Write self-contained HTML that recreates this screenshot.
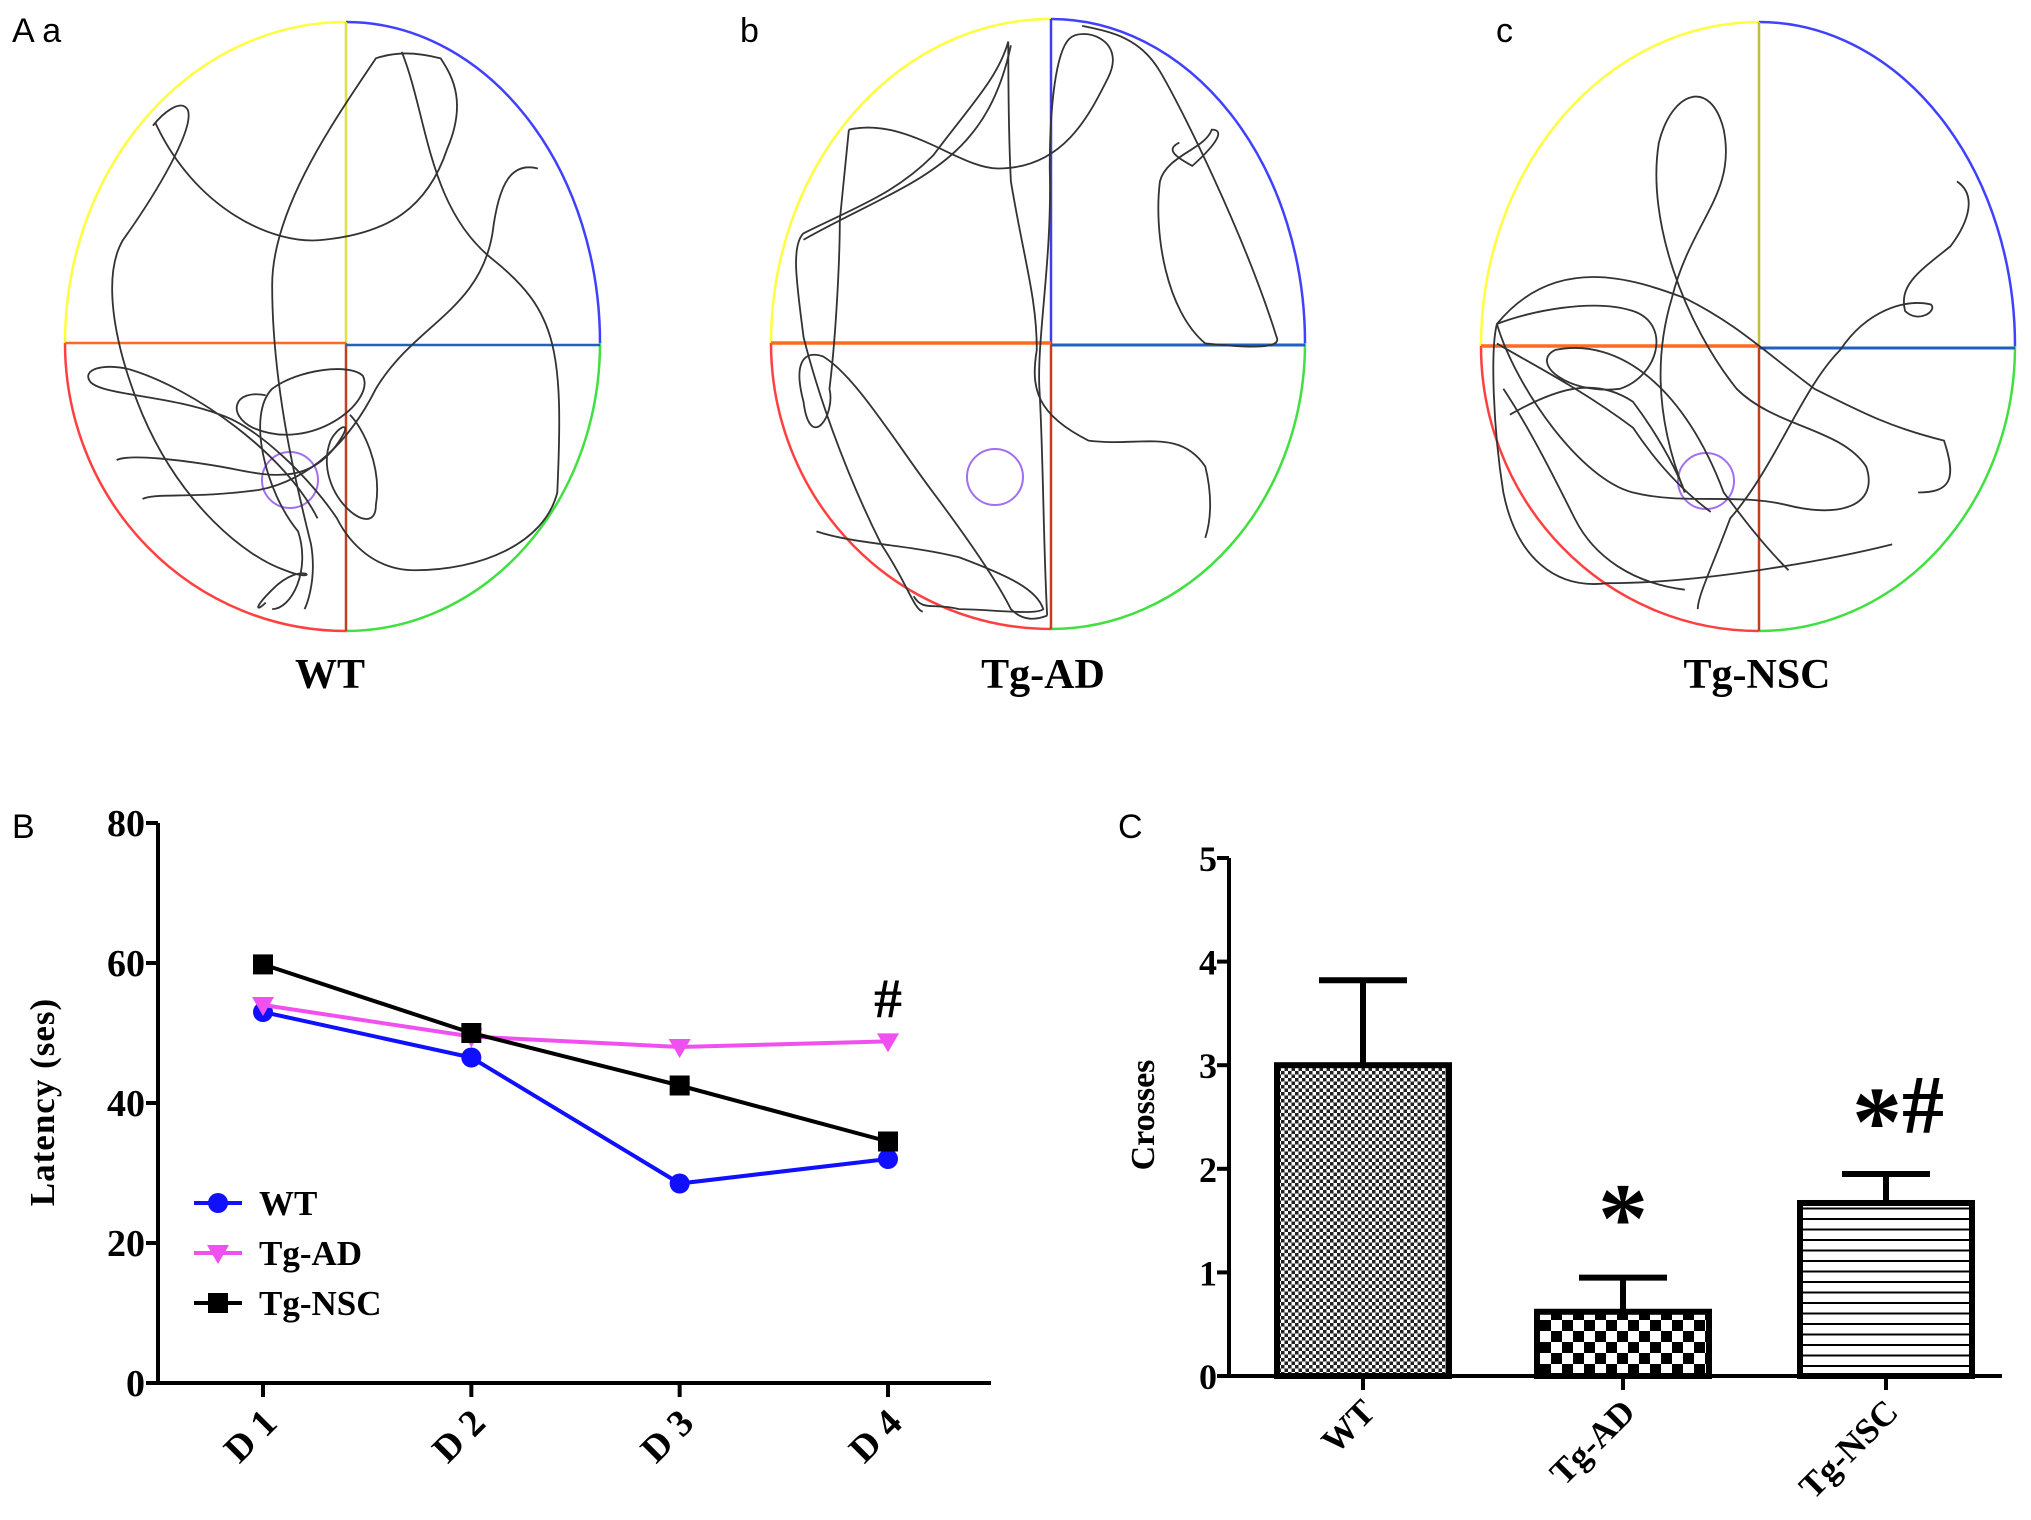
<!DOCTYPE html>
<html><head><meta charset="utf-8">
<style>
html,body{margin:0;padding:0;background:#fff;}
svg{display:block;}
.serif{font-family:"Liberation Serif",serif;font-weight:bold;}
.sans{font-family:"Liberation Sans",sans-serif;}
</style></head>
<body>
<svg id="fig" width="2031" height="1520" viewBox="0 0 2031 1520" xmlns="http://www.w3.org/2000/svg">
<defs>
  <pattern id="pFine" width="7" height="7" patternUnits="userSpaceOnUse">
    <rect width="7" height="7" fill="#fff"/>
    <rect width="3.5" height="3.5" fill="#222"/>
    <rect x="3.5" y="3.5" width="3.5" height="3.5" fill="#222"/>
  </pattern>
  <pattern id="pCheck" width="22" height="22" patternUnits="userSpaceOnUse">
    <rect width="22" height="22" fill="#fff"/>
    <rect width="11" height="11" fill="#000"/>
    <rect x="11" y="11" width="11" height="11" fill="#000"/>
  </pattern>
  <pattern id="pLines" width="10" height="10.5" patternUnits="userSpaceOnUse">
    <rect width="10" height="10.5" fill="#fff"/>
    <rect y="0" width="10" height="2" fill="#000"/>
  </pattern>
</defs>

<!-- Panel A -->
<g>
  <text class="sans" x="12" y="42" font-size="34">A a</text>
  <text class="sans" x="740" y="42" font-size="34">b</text>
  <text class="sans" x="1496" y="42" font-size="34">c</text>

  <g fill="none" stroke-width="2.5">
    <path d="M65,343 A281,321 0 0 1 346,22" stroke="#ffff40"/>
    <path d="M346,22 A254,321 0 0 1 600,343" stroke="#4040ff"/>
    <path d="M600,343 A254,288 0 0 1 346,631" stroke="#40e040"/>
    <path d="M346,631 A281,288 0 0 1 65,343" stroke="#ff4040"/>
    <line x1="346" y1="22" x2="346" y2="343" stroke="#e0e040"/>
    <line x1="346" y1="343" x2="346" y2="631" stroke="#c04020"/>
    <line x1="65" y1="343" x2="346" y2="343" stroke="#ff6a20"/>
    <line x1="346" y1="345" x2="600" y2="345" stroke="#2060c0"/>
    <circle cx="290" cy="480" r="28" stroke="#a070f0" stroke-width="2"/>
    <g transform="scale(1.296)" stroke="#333" stroke-width="1.4">
      <path d="M118,97 C125,88 140,75 145,85 C150,100 120,150 95,185 C80,210 85,260 110,320 C140,390 190,430 220,440 C250,452 235,430 210,455 C195,470 198,472 205,465"/>
      <path d="M120,95 C150,160 210,190 250,185 C300,180 330,160 345,115 C360,80 350,60 340,45 C320,40 305,40 290,45 C260,90 210,160 210,220 C210,300 230,380 240,420 C245,450 235,470 235,470"/>
      <path d="M415,130 C395,125 385,140 380,180 C370,240 320,250 290,300 C270,340 240,370 200,378 C150,385 120,380 110,385"/>
      <path d="M310,40 C330,90 330,160 380,200 C430,240 435,270 430,380 C420,420 370,440 320,440 C290,440 270,420 260,400 C240,370 200,330 170,320 C130,305 80,305 70,295 C62,285 80,280 100,285 C150,300 220,350 245,400"/>
      <path d="M205,305 C180,300 175,320 195,330 C240,350 290,310 280,290 C270,280 230,285 210,300 C190,320 205,380 230,410 C240,440 225,470 210,470"/>
      <path d="M90,355 C100,350 140,355 170,360 C200,365 240,380 265,335 C270,325 260,330 255,340 C240,380 290,420 290,390 C295,360 280,330 270,320"/>
    </g>
  </g>
  <text class="serif" x="330" y="688" font-size="42" text-anchor="middle">WT</text>

  <g fill="none" stroke-width="2.5">
    <path d="M771,343 A280,324 0 0 1 1051,19" stroke="#ffff40"/>
    <path d="M1051,19 A254,324 0 0 1 1305,343" stroke="#4040ff"/>
    <path d="M1305,343 A254,286 0 0 1 1051,629" stroke="#40e040"/>
    <path d="M1051,629 A280,286 0 0 1 771,343" stroke="#ff4040"/>
    <line x1="1051" y1="19" x2="1051" y2="343" stroke="#4040e0"/>
    <line x1="1051" y1="343" x2="1051" y2="629" stroke="#c04020"/>
    <line x1="771" y1="343" x2="1051" y2="343" stroke="#ff6a20" stroke-width="3.5"/>
    <line x1="1051" y1="345" x2="1305" y2="345" stroke="#2060c0" stroke-width="3"/>
    <circle cx="995" cy="477" r="28" stroke="#a070f0" stroke-width="2"/>
    <g transform="scale(1.296)" stroke="#333" stroke-width="1.4">
      <path d="M778,32 C778,40 778,100 780,140 C790,200 800,230 800,270 C795,300 800,320 840,340 C880,345 910,330 930,360 C935,380 935,400 930,415"/>
      <path d="M778,32 C770,60 750,80 720,120 C690,150 660,160 620,180 C610,190 615,220 620,260 C630,300 650,360 680,420 C700,450 705,470 712,472"/>
      <path d="M655,100 C700,90 740,130 770,130 C820,130 840,90 855,60 C870,30 835,20 825,30 C815,40 810,80 810,130 C812,200 800,260 802,300 C805,350 805,420 808,475"/>
      <path d="M655,100 L648,170 C648,200 645,260 640,300 C645,320 625,350 620,310 C612,280 620,270 635,275 C660,290 690,340 720,380 C750,420 770,450 780,470 C790,480 800,478 808,475"/>
      <path d="M630,410 C660,420 700,420 740,430 C780,445 800,455 805,470 C800,475 760,470 740,470 C720,465 712,472 705,460"/>
      <path d="M835,20 C860,25 880,30 895,55 C910,80 960,180 985,260 C990,270 960,268 930,265 C900,240 890,180 895,140 C900,120 930,115 935,100 C945,100 940,110 920,128 C905,120 900,115 910,110"/>
      <path d="M620,185 C700,140 760,130 780,35"/>
    </g>
  </g>
  <text class="serif" x="1043" y="688" font-size="42" text-anchor="middle">Tg-AD</text>

  <g fill="none" stroke-width="2.5">
    <path d="M1481,346 A278,324 0 0 1 1759,22" stroke="#ffff40"/>
    <path d="M1759,22 A256,324 0 0 1 2015,346" stroke="#4040ff"/>
    <path d="M2015,346 A256,285 0 0 1 1759,631" stroke="#40e040"/>
    <path d="M1759,631 A278,285 0 0 1 1481,346" stroke="#ff4040"/>
    <line x1="1759" y1="22" x2="1759" y2="346" stroke="#c0c040"/>
    <line x1="1759" y1="346" x2="1759" y2="631" stroke="#c04020"/>
    <line x1="1481" y1="346" x2="1759" y2="346" stroke="#ff6a20" stroke-width="3.5"/>
    <line x1="1759" y1="348" x2="2015" y2="348" stroke="#2060c0" stroke-width="3"/>
    <circle cx="1706" cy="481" r="28" stroke="#a070f0" stroke-width="2"/>
    <g transform="scale(1.296)" stroke="#333" stroke-width="1.4">
      <path d="M1300,380 C1280,330 1275,280 1290,230 C1305,170 1340,150 1330,100 C1320,60 1290,70 1280,110 C1270,170 1300,250 1340,300 C1370,330 1420,330 1440,360 C1450,390 1420,400 1380,390 C1340,380 1300,390 1260,380 C1220,370 1170,300 1155,250"/>
      <path d="M1460,420 C1420,430 1320,450 1240,450 C1200,455 1170,430 1160,380 C1152,330 1150,270 1155,250 C1200,195 1260,215 1300,230 C1340,250 1360,270 1400,300 C1440,320 1460,330 1500,340 C1510,370 1505,380 1480,380"/>
      <path d="M1510,140 C1525,150 1520,170 1505,190 C1480,210 1465,220 1470,240 C1480,250 1495,240 1490,235 C1470,230 1440,240 1420,270 C1390,300 1370,360 1335,400 C1320,440 1310,460 1310,470"/>
      <path d="M1155,250 C1180,240 1230,230 1260,240 C1290,250 1280,290 1250,300 C1210,305 1180,280 1200,270 C1250,260 1300,300 1330,380 C1345,400 1360,420 1380,440"/>
      <path d="M1155,265 C1180,280 1220,300 1260,330 C1280,360 1300,380 1320,395"/>
      <path d="M1165,320 C1200,300 1230,290 1260,310 C1290,350 1300,380 1300,380 M1160,300 C1180,330 1200,370 1215,400 C1230,430 1260,450 1300,455"/>
    </g>
  </g>
  <text class="serif" x="1757" y="688" font-size="42" text-anchor="middle">Tg-NSC</text>
</g>

<!-- Panel B -->
<g id="panelB">
  <text class="sans" x="12" y="838" font-size="34">B</text>
  <text class="serif" transform="translate(54,1102) rotate(-90)" font-size="35" text-anchor="middle" letter-spacing="1">Latency  (ses)</text>
</g>

<!-- Panel C -->
<g id="panelC">
  <text class="sans" x="1118" y="838" font-size="34">C</text>
  <text class="serif" transform="translate(1154,1115) rotate(-90)" font-size="34" text-anchor="middle">Crosses</text>
</g>

<script>
const NS = "http://www.w3.org/2000/svg";
// ---- Panel B data ----
const days = ["D 1", "D 2", "D 3", "D 4"];
const latencyTicks = [0, 20, 40, 60, 80];
const wtLatency = [53, 46.5, 28.5, 32];
const adLatency = [54, 49.5, 48, 48.8];
const nscLatency = [59.8, 50, 42.5, 34.5];
// ---- Panel C data ----
const groups = ["WT", "Tg-AD", "Tg-NSC"];
const crossesTicks = [0, 1, 2, 3, 4, 5];
const crossesMean = [3.0, 0.62, 1.67];
const crossesErr = [0.82, 0.33, 0.28];
const crossesMarks = ["", "*", "*#"];

function mk(tag, attrs, parent) {
  const e = document.createElementNS(NS, tag);
  for (const k in attrs) e.setAttribute(k, attrs[k]);
  parent.appendChild(e);
  return e;
}

// Panel B
(function () {
  const g = document.getElementById("panelB");
  const x0 = 158, y0 = 1383, yTop = 823, xEnd = 991;
  const yS = v => y0 - v / 80 * (y0 - yTop);
  const xS = i => 263 + i * (888 - 263) / (days.length - 1);
  const ax = mk("path", { d: `M${x0},${yTop} V${y0} H${xEnd}`, stroke: "#000", "stroke-width": 4, fill: "none" }, g);
  
  
  latencyTicks.forEach(t => {
    const tk = mk("line", { x1: x0 - 12, x2: x0, y1: yS(t), y2: yS(t), stroke: "#000", "stroke-width": 4 }, g);
    
    
    const tl = mk("text", { x: x0 - 13, y: yS(t) + 13, "font-size": 38, "text-anchor": "end", class: "serif" }, g);
    tl.textContent = t;
    
    
  });
  days.forEach((d, i) => {
    const tk = mk("line", { x1: xS(i), x2: xS(i), y1: y0, y2: y0 + 14, stroke: "#000", "stroke-width": 4 }, g);
    
    
    const tl = mk("text", { transform: `translate(${xS(i) + 16},${y0 + 42}) rotate(-45)`, "font-size": 38, "text-anchor": "end", class: "serif" }, g);
    tl.textContent = d;
    
    
  });
  const series = [
    { name: "wt", vals: wtLatency, color: "#1010ff", m: "circle" },
    { name: "tg-ad", vals: adLatency, color: "#f050f0", m: "tri" },
    { name: "tg-nsc", vals: nscLatency, color: "#000", m: "square" }
  ];
  function marker(s, cx, cy, par) {
    let e;
    if (s.m === "circle") e = mk("circle", { cx, cy, r: 10, fill: s.color }, par);
    else if (s.m === "square") e = mk("rect", { x: cx - 10, y: cy - 10, width: 20, height: 20, fill: s.color }, par);
    else e = mk("path", { d: `M${cx - 11},${cy - 8} H${cx + 11} L${cx},${cy + 11} Z`, fill: s.color }, par);
    return e;
  }
  series.forEach(s => {
    const pts = s.vals.map((v, i) => `${xS(i)},${yS(v)}`).join(" ");
    const l = mk("polyline", { points: pts, fill: "none", stroke: s.color, "stroke-width": 4 }, g);
    
    
    s.vals.forEach((v, i) => {
      const p = marker(s, xS(i), yS(v), g);
      
      
    });
  });
  const hash = mk("text", { x: xS(3), y: yS(adLatency[3]) - 24, "font-size": 56, "text-anchor": "middle", class: "serif", "font-weight": "normal" }, g);
  hash.textContent = "#";
  
  
  series.forEach((s, i) => {
    const ly = 1203 + i * 50;
    const ln = mk("line", { x1: 194, x2: 242, y1: ly, y2: ly, stroke: s.color, "stroke-width": 4 }, g);
    
    
    const mm = marker(s, 218, ly, g);
    
    
    const t = mk("text", { x: 259, y: ly + 12, "font-size": 35, class: "serif", "font-weight": "normal" }, g);
    t.textContent = ["WT", "Tg-AD", "Tg-NSC"][i];
    
    
  });
})();

// Panel C
(function () {
  const g = document.getElementById("panelC");
  const x0 = 1229, y0 = 1376, yTop = 858, xEnd = 2002;
  const yS = v => y0 - v / 5 * (y0 - yTop);
  const centers = [1363, 1623, 1886];
  const bw = 172;
  const fills = ["url(#pFine)", "url(#pCheck)", "url(#pLines)"];
  crossesTicks.forEach(t => {
    const tk = mk("line", { x1: x0 - 12, x2: x0, y1: yS(t), y2: yS(t), stroke: "#000", "stroke-width": 4 }, g);
    
    
    const tl = mk("text", { x: x0 - 12, y: yS(t) + 13, "font-size": 36, "text-anchor": "end", class: "serif" }, g);
    tl.textContent = t;
    
    
  });
  groups.forEach((name, i) => {
    const cx = centers[i];
    const top = yS(crossesMean[i] + crossesErr[i]);
    const eb = mk("line", { x1: cx, x2: cx, y1: yS(crossesMean[i]), y2: top, stroke: "#000", "stroke-width": 6 }, g);
    
    
    const cap = mk("line", { x1: cx - 44, x2: cx + 44, y1: top, y2: top, stroke: "#000", "stroke-width": 6 }, g);
    
    
    const b = mk("rect", { x: cx - bw / 2, y: yS(crossesMean[i]), width: bw, height: y0 - yS(crossesMean[i]), fill: fills[i], stroke: "#000", "stroke-width": 6 }, g);
    
    
    const tk = mk("line", { x1: cx, x2: cx, y1: y0, y2: y0 + 14, stroke: "#000", "stroke-width": 4 }, g);
    
    
    const tl = mk("text", { transform: `translate(${cx + 14},${y0 + 38}) rotate(-45)`, "font-size": 35, "text-anchor": "end", class: "serif" }, g);
    tl.textContent = name;
    
    
    if (crossesMarks[i]) {
      const m = mk("text", { x: cx + (i === 2 ? 12 : 0), y: top - (i === 2 ? 41 : 48), "font-size": i === 2 ? 84 : 100, "text-anchor": "middle", class: "serif", "font-weight": "normal" }, g);
      if (i === 2) {
        const s1 = mk("tspan", { "font-size": 100, dy: 22 }, m);
        s1.textContent = "*";
        const s2 = mk("tspan", { dy: -22 }, m);
        s2.textContent = "#";
      } else {
        m.setAttribute("dy", 22);
        m.textContent = crossesMarks[i];
      }
      
      
    }
  });
  const ax = mk("path", { d: `M${x0},${yTop} V${y0} H${xEnd}`, stroke: "#000", "stroke-width": 4, fill: "none" }, g);
  
  
})();
</script>
</svg>
</body></html>
